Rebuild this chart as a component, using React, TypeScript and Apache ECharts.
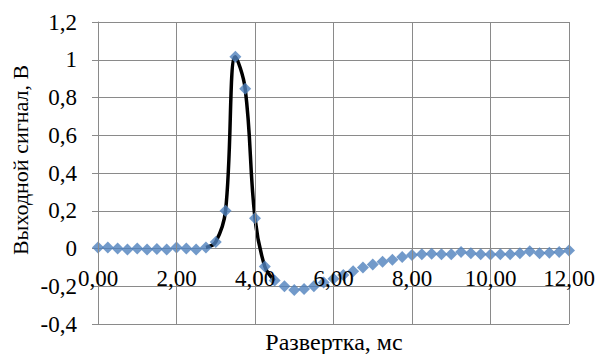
import React, { useEffect, useRef } from "react";
import * as echarts from "echarts";

const times: number[] = [
  0, 0.25, 0.5, 0.75, 1, 1.25, 1.5, 1.75, 2, 2.25, 2.5, 2.75,
  3, 3.25, 3.5, 3.75, 4, 4.25, 4.5, 4.75, 5, 5.25, 5.5, 5.75,
  6, 6.25, 6.5, 6.75, 7, 7.25, 7.5, 7.75, 8, 8.25, 8.5, 8.75,
  9, 9.25, 9.5, 9.75, 10, 10.25, 10.5, 10.75, 11, 11.25, 11.5, 11.75, 12,
];
const signal: number[] = [
  0.005, 0.005, 0.0, -0.005, 0.0, -0.005, -0.003, -0.005, 0.005, 0.0, -0.005, 0.005,
  0.035, 0.2, 1.016, 0.846, 0.16, -0.095, -0.17, -0.2, -0.22, -0.215, -0.2, -0.18,
  -0.16, -0.14, -0.12, -0.1, -0.085, -0.07, -0.06, -0.045, -0.035, -0.03, -0.028, -0.03,
  -0.03, -0.018, -0.025, -0.03, -0.032, -0.03, -0.03, -0.025, -0.015, -0.025, -0.022, -0.018, -0.01,
];
// portion of the signal that is traced with the black smoothed line
const pulseTimes: number[] = [2.75, 3, 3.25, 3.5, 3.75, 4, 4.25, 4.5];
const pulseValues: number[] = [0.005, 0.035, 0.2, 1.016, 0.846, 0.16, -0.095, -0.17];

const yTitle = "Выходной сигнал, В";
const xTitle = "Развертка, мс";

export default function App() {
  const ref = useRef<HTMLDivElement>(null);
  useEffect(() => {
    if (!ref.current) return;
    const chart = echarts.init(ref.current, undefined, { renderer: "svg" });
    const font = "Liberation Serif";
    const gridColor = "#8a8a8a";
    chart.setOption({
      animation: false,
      backgroundColor: "#ffffff",
      grid: {
        left: 98,
        right: 29,
        top: 22,
        bottom: 30,
        containLabel: false,
        outerBoundsMode: "none",
      },
      xAxis: {
        type: "value",
        min: 0,
        max: 12,
        interval: 2,
        z: 10,
        position: "bottom",
        offset: -75.5,
        axisLine: { show: false },
        axisTick: { show: false },
        splitLine: { show: true, lineStyle: { color: gridColor, width: 1 } },
        axisLabel: {
          margin: 18,
          color: "#000",
          fontFamily: font,
          fontSize: 23,
          formatter: (v: number) => v.toFixed(2).replace(".", ","),
        },
      },
      yAxis: {
        type: "value",
        min: -0.4,
        max: 1.2,
        interval: 0.2,
        axisLine: { show: true, onZero: false, lineStyle: { color: gridColor, width: 1 } },
        axisTick: { show: true, length: 6, lineStyle: { color: gridColor } },
        splitLine: { show: true, lineStyle: { color: gridColor, width: 1 } },
        axisLabel: {
          margin: 21,
          color: "#000",
          fontFamily: font,
          fontSize: 23,
          formatter: (v: number) => String(+v.toFixed(1)).replace(".", ","),
        },
      },
      graphic: [
        {
          type: "text",
          x: 20,
          y: 160,
          rotation: Math.PI / 2,
          style: {
            text: yTitle,
            fontFamily: font,
            fontSize: 22,
            fill: "#000",
            align: "center",
            verticalAlign: "middle",
          },
        },
        {
          type: "text",
          x: 334,
          y: 342,
          style: {
            text: xTitle,
            fontFamily: font,
            fontSize: 24,
            fill: "#000",
            align: "center",
            verticalAlign: "middle",
          },
        },
      ],
      series: [
        {
          type: "line",
          data: pulseTimes.map((t, i) => [t, pulseValues[i]]),
          smooth: 0.4,
          showSymbol: false,
          lineStyle: { color: "#000", width: 3.5 },
          z: 2,
        },
        {
          type: "scatter",
          data: times.map((t, i) => [t, signal[i]]),
          symbol: "diamond",
          symbolSize: 12,
          itemStyle: { color: "#4f81bd" },
          z: 3,
        },
      ],
    });
    return () => chart.dispose();
  }, []);
  return (
    <div
      ref={ref}
      style={{ position: "absolute", left: 0, top: 0, width: 598, height: 354 }}
    />
  );
}
